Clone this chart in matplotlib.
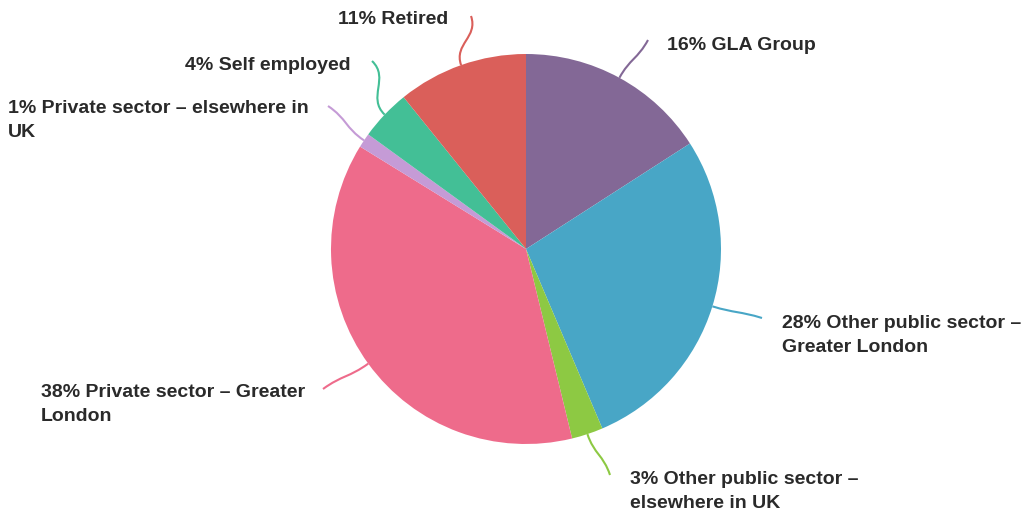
import numpy as np
import matplotlib
matplotlib.use("Agg")
import matplotlib.pyplot as plt
from matplotlib.path import Path
from matplotlib.patches import PathPatch

# ---- data ----
categories = ["GLA Group", "Other public sector – Greater London",
              "Other public sector – elsewhere in UK", "Private sector – Greater London",
              "Private sector – elsewhere in UK", "Self employed", "Retired"]
values = [15.9, 27.7, 2.6, 37.6, 1.2, 4.2, 10.8]
labels = ["16% GLA Group", "28% Other public sector –\nGreater London",
          "3% Other public sector –\nelsewhere in UK", "38% Private sector – Greater\nLondon",
          "1% Private sector – elsewhere in\nUK", "4% Self employed", "11% Retired"]
colors = ["#836896", "#48A6C6", "#8DC943", "#EE6B8B", "#C59BD6", "#43BF96", "#DA5F5A"]

W, H = 1023, 519
fig = plt.figure(figsize=(W / 100, H / 100), dpi=100)
ax = fig.add_axes([0, 0, 1, 1])

cx, cy, R = 526, H - 249, 195
wedges, _ = ax.pie(values, colors=colors, startangle=90, counterclock=False,
                   center=(cx, cy), radius=R, frame=True,
                   wedgeprops=dict(linewidth=0))
ax.set_xlim(0, W)
ax.set_ylim(0, H)
ax.set_aspect("equal")
ax.axis("off")

# label layout: (text x, text center y in px from top, leader end x, leader end y px)
layout = [
    (667, 45, 648, 40),
    (782, 335.5, 762, 318),
    (630, 491.5, 610, 475),
    (41, 404.5, 323, 389),
    (8, 120.5, 328, 106),
    (185, 65, 372, 61),
    (338, 20, 471, 16),
]

for w, lab, col, (tx, ty, ex, ey) in zip(wedges, labels, colors, layout):
    th = np.deg2rad((w.theta1 + w.theta2) / 2)
    u = np.array([np.cos(th), np.sin(th)])
    p0 = np.array([cx, cy]) + u * R
    p3 = np.array([ex, H - ey])
    L = np.linalg.norm(p3 - p0)
    p1 = p0 + u * L * 0.45
    p2 = p3 - u * L * 0.45
    path = Path([p0, p1, p2, p3], [Path.MOVETO, Path.CURVE4, Path.CURVE4, Path.CURVE4])
    ax.add_patch(PathPatch(path, facecolor="none", edgecolor=col, lw=1.5))
    ax.text(tx, H - ty, lab, ha="left", va="center", fontsize=14,
            family="Liberation Sans", fontweight="bold", color="#2a2a2a",
            linespacing=1.55)

fig.savefig("out.png", dpi=100, facecolor="white")
